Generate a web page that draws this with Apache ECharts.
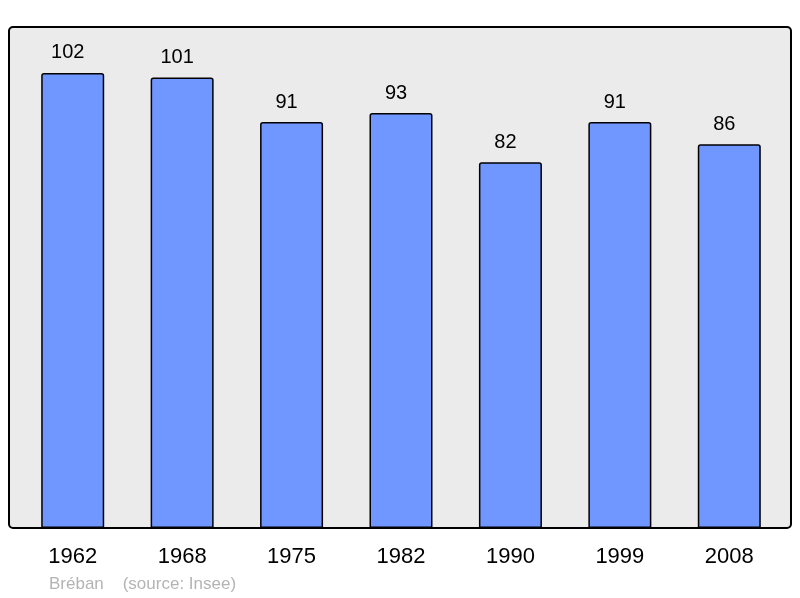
<!DOCTYPE html>
<html lang="fr">
<head>
    <meta charset="utf-8"/>
    <title>Bréban - population</title>
    <script src="https://cdn.jsdelivr.net/npm/echarts@6/dist/echarts.min.js"></script>
    <style>
        html, body { margin: 0; padding: 0; background: #fff; }
        #chart { width: 800px; height: 598px; }
    </style>
</head>
<body>
<div id="chart"></div>
<script>
    // données
    var years = ['1962', '1968', '1975', '1982', '1990', '1999', '2008'];
    var population = [102, 101, 91, 93, 82, 91, 86];
    var footer = 'Bréban    (source: Insee)';

    var chart = echarts.init(document.getElementById('chart'));
    var option = {
        animation: false,
        textStyle: { fontFamily: 'Liberation Sans, Arial, sans-serif' },
        graphic: [
            {
                type: 'rect',
                z: -10,
                shape: { x: 9, y: 27, width: 782, height: 501, r: 4 },
                style: { fill: '#ebebeb', stroke: '#000', lineWidth: 2 }
            },
            {
                type: 'text',
                left: 49,
                top: 576,
                style: { text: footer, fill: '#b4b4b4', fontSize: 17, fontFamily: 'Liberation Sans, Arial, sans-serif' }
            }
        ],
        grid: { left: 18, right: 16, top: 27, bottom: 70 },
        xAxis: {
            type: 'category',
            data: years,
            axisLine: { show: false },
            axisTick: { show: false },
            axisLabel: { color: '#000', fontSize: 22, margin: 18 }
        },
        yAxis: {
            type: 'value',
            min: 0,
            max: 112.3,
            show: false,
            splitLine: { show: false }
        },
        series: [{
            type: 'bar',
            data: population,
            barWidth: 63,
            itemStyle: { color: '#7096ff', borderColor: '#000', borderWidth: 1.5, borderRadius: [2, 2, 0, 0] },
            label: { show: true, position: 'top', distance: 10, offset: [-5, 0], color: '#000', fontSize: 20 }
        }]
    };
    chart.setOption(option);
</script>
</body>
</html>
